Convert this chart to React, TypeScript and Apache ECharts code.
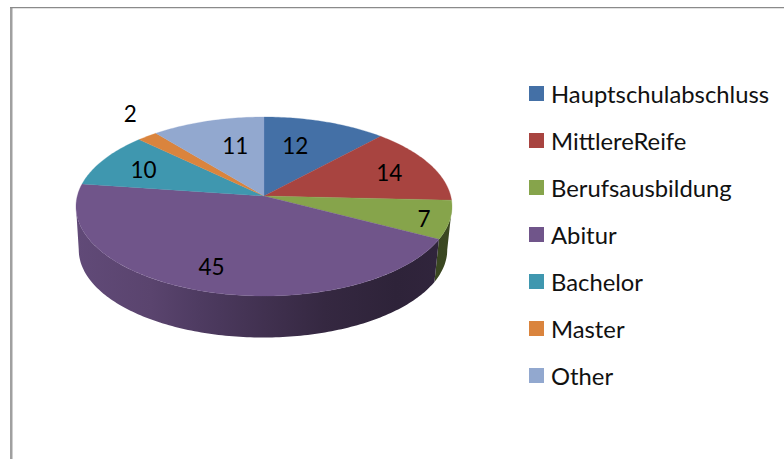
import React, { useEffect, useRef } from "react";
import * as echarts from "echarts";

const CATEGORIES = ["Hauptschulabschluss", "MittlereReife", "Berufsausbildung", "Abitur", "Bachelor", "Master", "Other"];
const VALUES = [12, 14, 7, 45, 10, 2, 11];
const COLORS = ["#4470a6", "#a84440", "#86a44b", "#70558a", "#3f97af", "#da843d", "#92a8cf"];
// label offsets from the slice's mid-radius point
const LABEL_NUDGES = [[-13, 3], [8, -1], [31, 6], [-9, 7], [-7, 0], [-50, -40], [12, 4]];
const FONT = "Lato, 'Open Sans', sans-serif";

// Perspective model of the tilted disc
const CX = 264, CY = 196, A = 186.7, B = 88.27, K = 0.1173;
const BASE_CX = 263, BASE_DY = 43.5, BASE_S = 0.98;
const TOTAL = VALUES.reduce((s, v) => s + v, 0);
const RIGHT_TANGENT = 180 - (Math.acos(K) * 180) / Math.PI; // angle of the widest point on the right
const LEFT_TANGENT = 360 - RIGHT_TANGENT;

// wall darkening along the screen x
const SHADE_STOPS: [number, number][] = [[0, 0.87], [0.2, 0.8], [0.33, 0.7], [0.5, 0.58], [0.66, 0.47], [0.85, 0.41], [1, 0.44]];

function project(deg: number, r: number) {
  const a = (deg * Math.PI) / 180;
  const u = r * Math.sin(a), v = -r * Math.cos(a), w = 1 - K * v;
  return { x: (A * u) / w, y: (B * v) / w };
}
function shade(hex: string, f: number) {
  const n = parseInt(hex.slice(1), 16);
  const c = [(n >> 16) & 255, (n >> 8) & 255, n & 255].map((p) => Math.round(p * f));
  return `rgb(${c[0]},${c[1]},${c[2]})`;
}
function arc(a1: number, a2: number) {
  const out: number[] = [];
  const steps = Math.max(2, Math.ceil(Math.abs(a2 - a1)));
  for (let i = 0; i <= steps; i++) out.push(a1 + ((a2 - a1) * i) / steps);
  return out;
}

function renderSlice(index: number) {
  return (_params: any, api: any) => {
    const value = api.value(0);
    const before = VALUES.slice(0, index).reduce((s, v) => s + v, 0);
    const a1 = (before / TOTAL) * 360;
    const a2 = a1 + (value / TOTAL) * 360;
    const color = COLORS[index];
    const children: any[] = [];

    const w1 = Math.max(a1, RIGHT_TANGENT), w2 = Math.min(a2, LEFT_TANGENT);
    if (w2 > w1) {
      const degs = arc(w1, w2);
      const top = degs.map((d) => {
        const p = project(d, 1);
        return [CX + p.x, CY + p.y];
      });
      const bottom = degs.slice().reverse().map((d) => {
        const p = project(d, 1);
        return [BASE_CX + BASE_S * p.x, CY + BASE_DY + BASE_S * p.y];
      });
      children.push({
        type: "polygon",
        shape: { points: top.concat(bottom) },
        style: {
          fill: new echarts.graphic.LinearGradient(
            CX - A - 2, 0, CX + A + 2, 0,
            SHADE_STOPS.map(([offset, f]) => ({ offset, color: shade(color, f) })),
            true
          ),
          stroke: null,
        },
      });
    }

    const face = arc(a1, a2).map((d) => {
      const p = project(d, 1);
      return [CX + p.x, CY + p.y];
    });
    children.push({
      type: "polygon",
      shape: { points: [[CX, CY], ...face] },
      style: { fill: color, stroke: color, lineWidth: 0.3 },
    });

    const mid = project((a1 + a2) / 2, 0.7);
    const [nx, ny] = LABEL_NUDGES[index];
    children.push({
      type: "text",
      x: CX + mid.x + nx,
      y: CY + mid.y + ny,
      z2: 10,
      style: {
        text: String(value),
        fontFamily: FONT,
        fontSize: 22.5,
        fill: "#000",
        align: "center",
        verticalAlign: "middle",
      },
    });
    return { type: "group", children };
  };
}

export default function App() {
  const ref = useRef<HTMLDivElement>(null);
  useEffect(() => {
    document.body.style.margin = "0";
    const chart = echarts.init(ref.current!, null, { renderer: "svg" });
    chart.setOption({
      animation: false,
      backgroundColor: "#fff",
      legend: {
        orient: "vertical",
        left: 529,
        top: 81,
        padding: 0,
        icon: "rect",
        itemWidth: 15,
        itemHeight: 15,
        itemGap: 22,
        selectedMode: false,
        data: CATEGORIES,
        textStyle: { fontFamily: FONT, fontSize: 23.8, color: "#111", lineHeight: 25, padding: [0, 0, 0, 2] },
      },
      graphic: [
        { type: "rect", shape: { x: 10, y: 7, width: 2.5, height: 452 }, style: { fill: "#a0a0a0" }, silent: true },
        { type: "rect", shape: { x: 10, y: 7, width: 774, height: 1.3 }, style: { fill: "#8a8a8a" }, silent: true },
      ],
      series: CATEGORIES.map((name, i) => ({
        type: "custom",
        name,
        coordinateSystem: "none",
        silent: true,
        itemStyle: { color: COLORS[i] },
        data: [[VALUES[i]]],
        renderItem: renderSlice(i),
      })),
    });
    return () => chart.dispose();
  }, []);
  return <div ref={ref} style={{ position: "fixed", left: 0, top: 0, width: 784, height: 459 }} />;
}
